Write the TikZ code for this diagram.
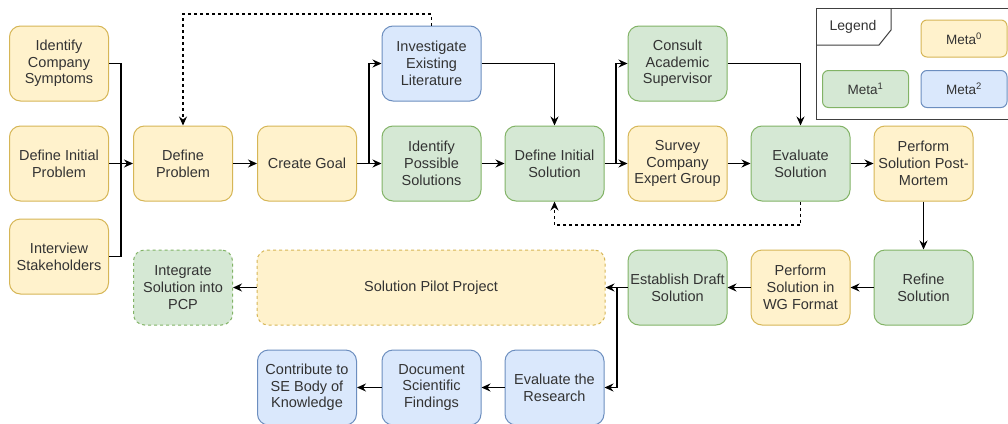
\documentclass[tikz,border=0pt]{standalone}
\usepackage{fontspec}
\setmainfont{Liberation Sans}
\usetikzlibrary{arrows.meta}
\definecolor{yf}{HTML}{FFF2CC}
\definecolor{yd}{HTML}{D6B656}
\definecolor{gf}{HTML}{D5E8D4}
\definecolor{gd}{HTML}{82B366}
\definecolor{bf}{HTML}{DAE8FC}
\definecolor{bd}{HTML}{6C8EBF}
\definecolor{txt}{HTML}{333333}
\begin{document}
\begin{tikzpicture}[x=1pt,y=-1pt,
 box/.style={rectangle, rounded corners=11pt, line width=1pt, minimum width=99pt, minimum height=75pt, inner sep=0pt, align=center, font=\fontsize{14.5}{16.7}\selectfont, text=txt},
 yb/.style={box, draw=yd, fill=yf},
 gb/.style={box, draw=gd, fill=gf},
 bb/.style={box, draw=bd, fill=bf},
 metabox/.style={minimum width=86pt, minimum height=37pt, rounded corners=6pt, font=\fontsize{13.5}{16}\selectfont},
 arr/.style={-{Stealth[length=9pt,width=8pt,inset=3pt]}, line width=1.1pt, black},
 conn/.style={line width=1.1pt, black},
 dsh/.style={dash pattern=on 3pt off 3pt}]
\fill[white] (0,0) rectangle (1008,423);
\useasboundingbox (0,0) rectangle (1008,423);
% row nodes
\node[yb] (ics) at (59,63.5) {Identify\\Company\\Symptoms};
\node[yb] (dip) at (59,163.5) {Define Initial\\Problem};
\node[yb] (isk) at (59,256.5) {Interview\\Stakeholders};
\node[yb] (dp) at (183,163.5) {Define\\Problem};
\node[yb] (cg) at (307,163.5) {Create Goal};
\node[bb] (iel) at (431.5,63.5) {Investigate\\Existing\\Literature};
\node[gb] (ips) at (431.5,163.5) {Identify\\Possible\\Solutions};
\node[gb] (dis) at (554.5,163.5) {Define Initial\\Solution};
\node[gb] (cas) at (677.5,63.5) {Consult\\Academic\\Supervisor};
\node[yb] (sce) at (677.5,163.5) {Survey\\Company\\Expert Group};
\node[gb] (es) at (800.5,163.5) {Evaluate\\Solution};
\node[yb] (pm) at (923.5,163.5) {Perform\\Solution Post-\\Mortem};
\node[gb] (rs) at (923.5,287.5) {Refine\\Solution};
\node[yb] (wg) at (800.5,287.5) {Perform\\Solution in\\WG Format};
\node[gb] (eds) at (677.5,287.5) {Establish Draft\\Solution};
\node[yb, dsh, minimum width=348pt] (spp) at (431,287.5) {Solution Pilot Project};
\node[gb, dsh] (isp) at (183,287.5) {Integrate\\Solution into\\PCP};
\node[bb] (etr) at (554.5,387.5) {Evaluate the\\Research};
\node[bb] (dsf) at (431.5,387.5) {Document\\Scientific\\Findings};
\node[bb] (cse) at (307,387.5) {Contribute to\\SE Body of\\Knowledge};
% connectors
\coordinate (j1) at (121,163.5);
\draw[conn] (ics.east) -| (j1);
\draw[conn] (isk.east) -| (j1);
\draw[arr] (dip) -- (dp);
\draw[arr] (dp) -- (cg);
\draw[arr] (cg) -- (ips);
\coordinate (j2) at (369,163.5);
\draw[arr] (j2) |- (iel.west);
\draw[arr] (iel.east) -| (dis.north);
\draw[arr] (ips) -- (dis);
\draw[arr] (dis) -- (sce);
\coordinate (j3) at (616,163.5);
\draw[arr] (j3) |- (cas.west);
\draw[arr] (cas.east) -| (es.north);
\draw[arr] (sce) -- (es);
\draw[arr] (es) -- (pm);
\draw[arr] (pm) -- (rs);
\draw[arr] (rs) -- (wg);
\draw[arr] (wg) -- (eds);
\draw[arr] (eds) -- (spp);
\coordinate (j4) at (617,287.5);
\draw[arr] (j4) |- (etr.east);
\draw[arr] (spp) -- (isp);
\draw[arr] (etr) -- (dsf);
\draw[arr] (dsf) -- (cse);
% dashed feedback loops
\coordinate (t2) at (183,14);
\draw[arr, dsh] (iel.north) |- (t2) -- (dp.north);
\coordinate (b1) at (554.5,225);
\draw[arr, dsh] (es.south) |- (b1) -- (dis.south);
% legend
\draw[line width=1pt, black!75] (816,8) rectangle (1020,119);
\draw[line width=1pt, black!75] (816,45) -- (879,45) -- (891,30) -- (891,8);
\node[text=txt, font=\fontsize{14}{16}\selectfont] (lg) at (853,27) {Legend};
\node[yb, metabox] (m0) at (964,38.5) {Meta\textsuperscript{0}};
\node[gb, metabox] (m1) at (865.5,89) {Meta\textsuperscript{1}};
\node[bb, metabox] (m2) at (964,89) {Meta\textsuperscript{2}};
\end{tikzpicture}
\end{document}
